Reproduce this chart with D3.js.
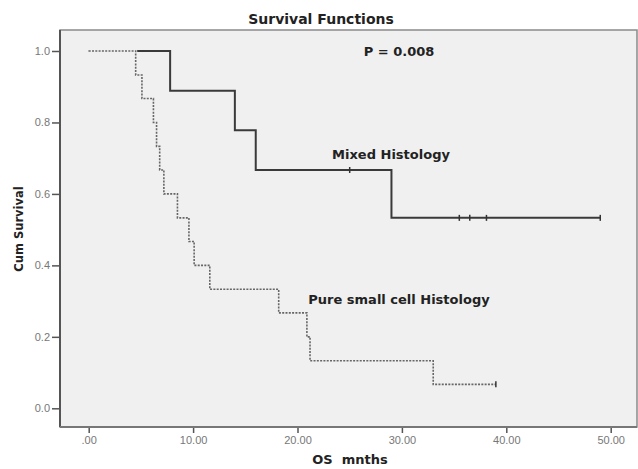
<!DOCTYPE html>
<html>
<head>
<meta charset="utf-8">
<script src="https://cdn.jsdelivr.net/npm/d3@7"></script>
<style>
  body { margin: 0; background: #fff; }
  text { font-family: "Liberation Sans", Arial, sans-serif; }
  .lbl { font-family: "DejaVu Sans", Verdana, sans-serif; font-weight: bold; }
</style>
</head>
<body>
<div class="canvas"></div>
<script>
// survival data
const mixedTimes = [0, 7.8, 14.0, 16.0, 29.0, 49.0];
const mixedSurv = [1, 0.889, 0.778, 0.667, 0.533, 0.533];
const mixedCensor = [25.0, 35.5, 36.5, 38.1, 49.0];

const pureTimes = [0, 4.5, 5.1, 6.2, 6.5, 6.8, 7.2, 8.5, 9.6, 10.1, 11.6, 18.2, 20.9, 21.2, 33.0, 39.0];
const pureSurv = [1, 0.933, 0.867, 0.8, 0.733, 0.667, 0.6, 0.533, 0.467, 0.4, 0.333, 0.267, 0.2, 0.133, 0.067, 0.067];
const pureCensor = [39.0];

const xTicks = [0, 10, 20, 30, 40, 50];
const yTicks = [0, 0.2, 0.4, 0.6, 0.8, 1.0];

const width = 638, height = 469;
const frame = { left: 60, top: 30, right: 637, bottom: 427 };

const svg = d3.select('.canvas')
  .append('svg')
  .attr('width', width)
  .attr('height', height);

const x = d3.scaleLinear().domain([0, 50]).range([88.7, 610.7]);
const y = d3.scaleLinear().domain([0, 1]).range([408.3, 51]);

// plot area
svg.append('rect')
  .attr('x', frame.left)
  .attr('y', frame.top)
  .attr('width', frame.right - frame.left)
  .attr('height', frame.bottom - frame.top)
  .attr('fill', '#f0f0f0')
  .attr('stroke', '#8a8a8a')
  .attr('stroke-width', 1.5);

// axes
const yAxis = d3.axisLeft(y).tickValues(yTicks).tickSize(8).tickPadding(2)
  .tickFormat(d3.format('.1f'));
const xAxis = d3.axisBottom(x).tickValues(xTicks).tickSize(6).tickPadding(3)
  .tickFormat(d => d === 0 ? '.00' : d.toFixed(2));

const yAxisGroup = svg.append('g')
  .attr('transform', `translate(${frame.left}, 0)`)
  .call(yAxis);
const xAxisGroup = svg.append('g')
  .attr('transform', `translate(0, ${frame.bottom})`)
  .call(xAxis);

[yAxisGroup, xAxisGroup].forEach(g => {
  g.select('.domain').remove();
  g.selectAll('line').attr('stroke', '#555').attr('stroke-width', 1.5);
  g.selectAll('text').attr('fill', '#777').style('font-size', '11px');
});

// darker left and bottom frame lines
svg.append('line')
  .attr('x1', frame.left).attr('x2', frame.left)
  .attr('y1', frame.top).attr('y2', frame.bottom)
  .attr('stroke', '#555').attr('stroke-width', 2);
svg.append('line')
  .attr('x1', frame.left).attr('x2', frame.right)
  .attr('y1', frame.bottom).attr('y2', frame.bottom)
  .attr('stroke', '#777').attr('stroke-width', 2);

const step = d3.line()
  .x(d => x(d[0]))
  .y(d => y(d[1]))
  .curve(d3.curveStepAfter);

const mixed = mixedTimes.map((t, i) => [t, mixedSurv[i]]);
const pure = pureTimes.map((t, i) => [t, pureSurv[i]]);

// survival at time t for censor marks
const survAt = (times, surv, t) => {
  let s = surv[0];
  times.forEach((tt, i) => { if (tt <= t) s = surv[i]; });
  return s;
};

// mixed histology - solid
svg.append('path')
  .datum(mixed)
  .attr('d', step)
  .attr('fill', 'none')
  .attr('stroke', '#3a3a3a')
  .attr('stroke-width', 2);

// pure small cell - dotted, drawn on top with an underlay so it hides the overlap
svg.append('path')
  .datum(pure)
  .attr('d', step)
  .attr('fill', 'none')
  .attr('stroke', '#f0f0f0')
  .attr('stroke-width', 3);
svg.append('path')
  .datum(pure)
  .attr('d', step)
  .attr('fill', 'none')
  .attr('stroke', '#666')
  .attr('stroke-width', 1.6)
  .attr('stroke-dasharray', '2,1.3');

// censor marks
const censors = mixedCensor.map(t => [t, survAt(mixedTimes, mixedSurv, t)])
  .concat(pureCensor.map(t => [t, survAt(pureTimes, pureSurv, t)]));
svg.selectAll('.censor')
  .data(censors)
  .enter()
  .append('line')
  .attr('class', 'censor')
  .attr('x1', d => x(d[0])).attr('x2', d => x(d[0]))
  .attr('y1', d => y(d[1]) - 3).attr('y2', d => y(d[1]) + 3)
  .attr('stroke', '#333')
  .attr('stroke-width', 1.5);

// texts
svg.append('text')
  .attr('class', 'lbl')
  .attr('x', 321).attr('y', 24)
  .attr('text-anchor', 'middle')
  .style('font-size', '14px')
  .attr('fill', '#222')
  .text('Survival Functions');

svg.append('text')
  .attr('class', 'lbl')
  .attr('transform', 'translate(23, 229) rotate(-90)')
  .attr('text-anchor', 'middle')
  .style('font-size', '11.5px')
  .attr('fill', '#222')
  .text('Cum Survival');

svg.append('text')
  .attr('class', 'lbl')
  .attr('x', 350).attr('y', 464)
  .attr('text-anchor', 'middle')
  .style('font-size', '13px')
  .style('white-space', 'pre')
  .attr('fill', '#222')
  .text('OS  mnths');

svg.append('text')
  .attr('class', 'lbl')
  .attr('x', 399).attr('y', 56)
  .attr('text-anchor', 'middle')
  .style('font-size', '13px')
  .attr('fill', '#222')
  .text('P = 0.008');

svg.append('text')
  .attr('class', 'lbl')
  .attr('x', 391).attr('y', 159)
  .attr('text-anchor', 'middle')
  .style('font-size', '13px')
  .attr('fill', '#222')
  .text('Mixed Histology');

svg.append('text')
  .attr('class', 'lbl')
  .attr('x', 399).attr('y', 304)
  .attr('text-anchor', 'middle')
  .style('font-size', '13px')
  .attr('fill', '#222')
  .text('Pure small cell Histology');
</script>
</body>
</html>
